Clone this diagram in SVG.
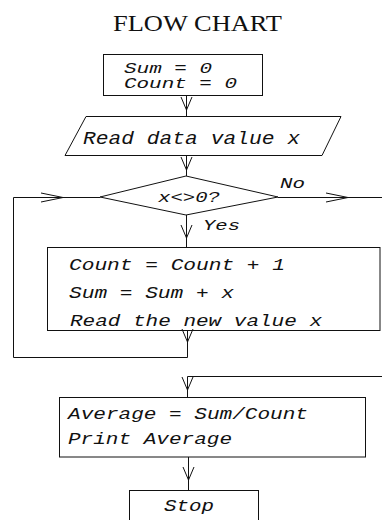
<svg xmlns="http://www.w3.org/2000/svg" width="382" height="520" viewBox="0 0 382 520">
  <style>
    .shape { fill: none; stroke: #111; stroke-width: 1; }
    .wire { fill: none; stroke: #111; stroke-width: 1; }
    .code { font-family: "Liberation Mono", "Courier New", monospace; font-style: italic; fill: #111; }
    .title { font-family: "Liberation Serif", "Times New Roman", serif; fill: #111; }
  </style>
  <defs>
    <!-- open V arrowheads: one for vertical runs, one for horizontal runs -->
    <marker id="headV" markerUnits="userSpaceOnUse" viewBox="-14 -7 15 14" refX="0" refY="0" markerWidth="15" markerHeight="14" orient="auto" overflow="visible">
      <path d="M-13,-5.5 L0,0 L-13,5.5" fill="none" stroke="#111" stroke-width="1"/>
    </marker>
    <marker id="headH" markerUnits="userSpaceOnUse" viewBox="-23 -6 24 12" refX="0" refY="0" markerWidth="24" markerHeight="12" orient="auto" overflow="visible">
      <path d="M-22,-4.5 L0,0 L-22,4.5" fill="none" stroke="#111" stroke-width="1"/>
    </marker>
  </defs>

  <rect width="382" height="520" fill="#fff"/>

  <text class="title" x="113" y="31" font-size="23" textLength="169" lengthAdjust="spacingAndGlyphs">FLOW CHART</text>

  <g id="init">
    <rect class="shape" x="103.5" y="54.5" width="159" height="41"/>
    <text class="code" x="124" y="73" font-size="14.5" textLength="88" lengthAdjust="spacingAndGlyphs">Sum = 0</text>
    <text class="code" x="124" y="88" font-size="14.5" textLength="113" lengthAdjust="spacingAndGlyphs">Count = 0</text>
  </g>

  <g id="read-input">
    <polygon class="shape" points="86,116.5 341,116.5 322,155.5 65,155.5"/>
    <text class="code" x="83" y="144" font-size="18.5" textLength="217" lengthAdjust="spacingAndGlyphs">Read data value x</text>
  </g>

  <g id="test">
    <polygon class="shape" points="100,197 186,176 278,197 186,215"/>
    <text class="code" x="158" y="202" font-size="15" textLength="62" lengthAdjust="spacingAndGlyphs">x&lt;&gt;0?</text>
  </g>

  <g id="accumulate">
    <rect class="shape" x="47.5" y="247.5" width="332.5" height="83"/>
    <text class="code" x="69" y="270" font-size="16" textLength="216" lengthAdjust="spacingAndGlyphs">Count = Count + 1</text>
    <text class="code" x="69" y="298" font-size="16" textLength="165" lengthAdjust="spacingAndGlyphs">Sum = Sum + x</text>
    <text class="code" x="70" y="326" font-size="16" textLength="252" lengthAdjust="spacingAndGlyphs">Read the new value x</text>
  </g>

  <g id="average">
    <rect class="shape" x="59.5" y="397.5" width="306" height="59.5"/>
    <text class="code" x="68" y="419" font-size="16" textLength="240" lengthAdjust="spacingAndGlyphs">Average = Sum/Count</text>
    <text class="code" x="68" y="444" font-size="16" textLength="164" lengthAdjust="spacingAndGlyphs">Print Average</text>
  </g>

  <g id="stop">
    <rect class="shape" x="129.5" y="490.5" width="129" height="40"/>
    <text class="code" x="164" y="511" font-size="16" textLength="50" lengthAdjust="spacingAndGlyphs">Stop</text>
  </g>

  <g id="connectors">
    <!-- init to read -->
    <path class="wire" d="M186.5,95.5 V110" marker-end="url(#headV)"/>
    <path class="wire" d="M186.5,110 V116.5"/>
    <!-- read to test -->
    <path class="wire" d="M186.5,155.5 V170" marker-end="url(#headV)"/>
    <path class="wire" d="M186.5,170 V176"/>
    <!-- test, yes branch -->
    <path class="wire" d="M186.5,215 V238" marker-end="url(#headV)"/>
    <path class="wire" d="M186.5,238 V247.5"/>
    <text class="code" x="203" y="230" font-size="15" textLength="37" lengthAdjust="spacingAndGlyphs">Yes</text>
    <!-- loop back to test -->
    <path class="wire" d="M187.5,330.5 V342" marker-end="url(#headV)"/>
    <path class="wire" d="M187.5,342 V357.5 H13.5 V197.5 H63" marker-end="url(#headH)"/>
    <path class="wire" d="M63,197.5 H100"/>
    <!-- test, no branch -->
    <path class="wire" d="M278,197.5 H348" marker-end="url(#headH)"/>
    <path class="wire" d="M348,197.5 H382"/>
    <text class="code" x="280" y="188" font-size="14" textLength="25" lengthAdjust="spacingAndGlyphs">No</text>
    <!-- exit into average -->
    <path class="wire" d="M382,376.5 H187.5 V390" marker-end="url(#headV)"/>
    <path class="wire" d="M187.5,390 V397.5"/>
    <!-- average to stop -->
    <path class="wire" d="M188.5,457 V480" marker-end="url(#headV)"/>
    <path class="wire" d="M188.5,480 V490.5"/>
  </g>
</svg>
